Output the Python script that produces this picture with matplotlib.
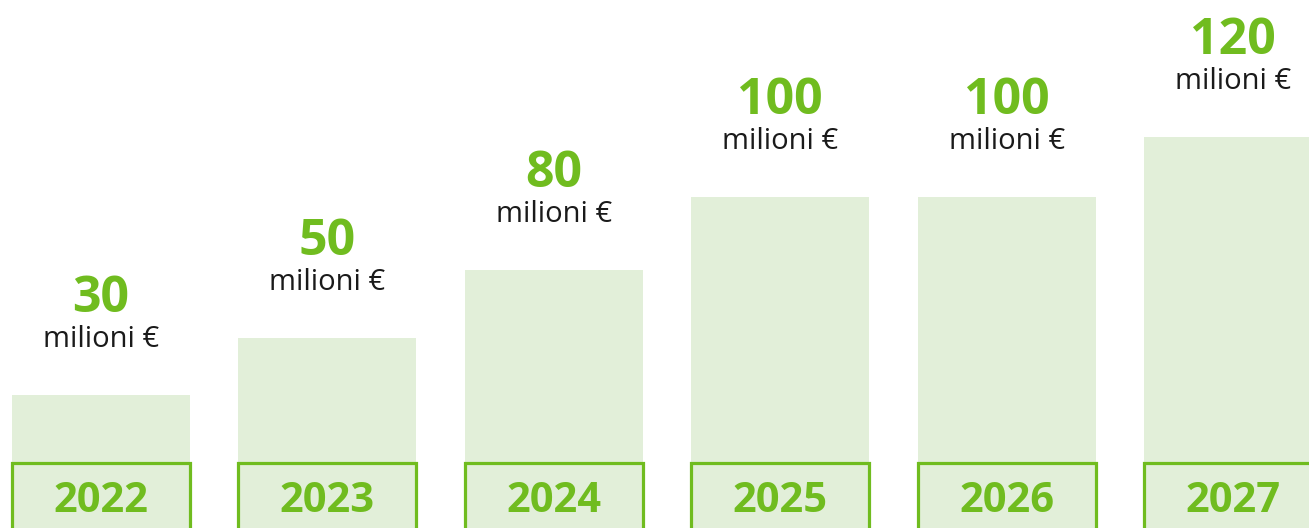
import numpy as np
import matplotlib
matplotlib.use("Agg")
import matplotlib.pyplot as plt

# data
years = ["2022", "2023", "2024", "2025", "2026", "2027"]
values = [30, 50, 80, 100, 100, 120]          # milioni €
bar_heights = [25, 46, 71, 98, 98, 120]       # drawn heights (not to scale)
unit = "milioni €"

green = "#70bc1f"
light = "#e2efd9"
plt.rcParams['font.family'] = ['Open Sans', 'DejaVu Sans']

fig = plt.figure(figsize=(13.09, 5.28), dpi=100)
ax = fig.add_axes([0, 0, 1, 1])
x = np.arange(len(years))
w = 0.786
pad = 30

ax.bar(x, np.array(bar_heights) + pad, bottom=-pad, width=w, color=light, zorder=1)
# year boxes along the bottom
ax.bar(x, pad, bottom=-pad, width=w, facecolor="none", edgecolor=green,
       linewidth=2.3, zorder=2)

for xi, yr, v, h in zip(x, years, values, bar_heights):
    ax.text(xi, -14.3, yr, ha="center", va="center", fontsize=30,
            fontweight="bold", color=green, zorder=3)
    ax.annotate(str(v), (xi, h), xytext=(0, 69), textcoords="offset points",
                ha="center", va="center", fontsize=36, fontweight="bold", color=green)
    ax.annotate(unit, (xi, h), xytext=(0, 40), textcoords="offset points",
                ha="center", va="center", fontsize=21, color="#1a1a1a")

ax.set_xlim(-0.446, 5.335)
ax.set_ylim(-23.9, 170.4)
ax.axis("off")
fig.savefig("out.png", dpi=100)
